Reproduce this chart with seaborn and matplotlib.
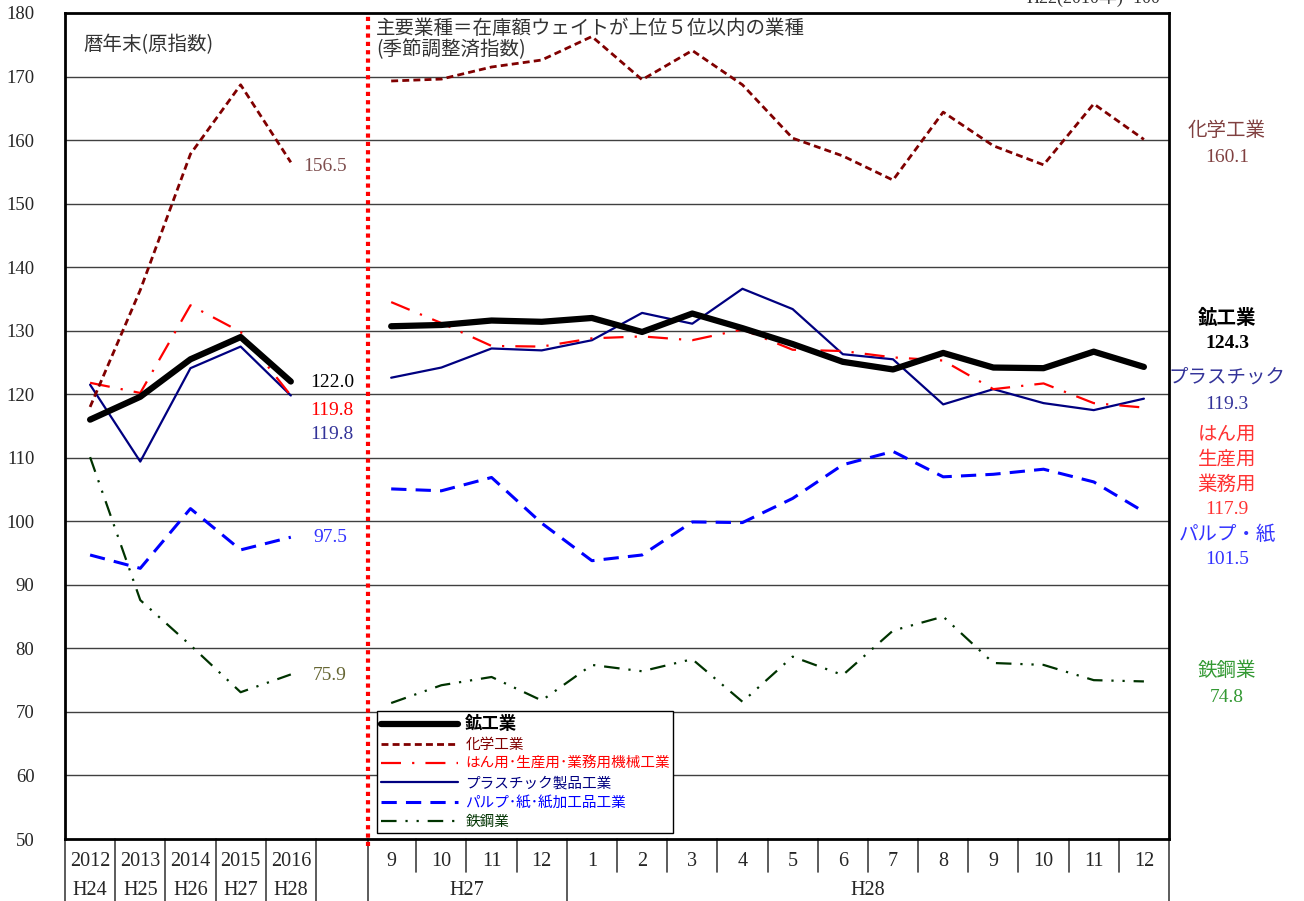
import matplotlib
matplotlib.use("Agg")
import pandas as pd
import matplotlib.pyplot as plt
import seaborn as sns

# ---- data ----
years = ["2012", "2013", "2014", "2015", "2016"]
eras = ["H24", "H25", "H26", "H27", "H28"]
months = ["9", "10", "11", "12", "1", "2", "3", "4", "5", "6", "7", "8", "9", "10", "11", "12"]

names = ["鉱工業", "化学工業", "はん用･生産用･業務用機械工業",
         "プラスチック製品工業", "パルプ･紙･紙加工品工業", "鉄鋼業"]

mining_y = [116.0, 119.6, 125.5, 129.0, 122.0]
mining_m = [130.7, 130.9, 131.6, 131.4, 132.0, 129.8, 132.7, 130.4,
            127.9, 125.1, 123.9, 126.5, 124.2, 124.1, 126.7, 124.3]
chem_y = [118.0, 136.4, 157.8, 168.7, 156.5]
chem_m = [169.3, 169.6, 171.5, 172.6, 176.3, 169.5, 174.1, 168.7,
          160.3, 157.5, 153.7, 164.4, 159.1, 156.1, 165.7, 160.1]
mach_y = [121.8, 120.2, 134.0, 129.8, 119.8]
mach_m = [134.5, 131.2, 127.6, 127.5, 128.8, 129.1, 128.5, 130.2,
          127.0, 126.8, 125.8, 125.3, 120.8, 121.7, 118.6, 117.9]
plas_y = [121.5, 109.4, 124.1, 127.5, 119.8]
plas_m = [122.6, 124.2, 127.2, 126.9, 128.5, 132.8, 131.1, 136.6,
          133.4, 126.3, 125.5, 118.4, 120.8, 118.6, 117.5, 119.3]
pulp_y = [94.7, 92.6, 102.0, 95.5, 97.5]
pulp_m = [105.1, 104.8, 106.9, 99.7, 93.8, 94.7, 99.9, 99.8,
          103.6, 108.9, 111.0, 107.0, 107.4, 108.2, 106.2, 101.5]
steel_y = [110.1, 87.6, 80.5, 73.1, 75.9]
steel_m = [71.4, 74.2, 75.5, 71.8, 77.4, 76.4, 78.3, 71.6,
           78.7, 75.8, 82.8, 85.0, 77.7, 77.4, 75.0, 74.8]

annual = [mining_y, chem_y, mach_y, plas_y, pulp_y, steel_y]
monthly = [mining_m, chem_m, mach_m, plas_m, pulp_m, steel_m]

colors = ["#000000", "#800000", "#FF0000", "#000080", "#0000FF", "#003300"]
styles = ["-", (0, (2.5, 1.5)), (0, (9, 5, 1, 5)), "-", (0, (5, 3)), (0, (7, 4, 1, 4, 1, 4))]
widths = [4.5, 2.0, 1.6, 1.6, 2.2, 1.6]

x_year = list(range(5))
x_month = list(range(6, 22))

# ---- figure ----
sns.set_style("white")
plt.rcParams["font.family"] = ["Liberation Serif", "Noto Sans CJK JP", "DejaVu Sans"]
JP = ["Noto Sans CJK JP", "DejaVu Sans"]
NUM = ["Liberation Serif", "Noto Sans CJK JP"]

fig = plt.figure(figsize=(13.04, 9.01), dpi=100)
ax = fig.add_axes([65 / 1304, 1 - 839 / 901, 1104 / 1304, 826 / 901])

handles = []
for i in range(6):
    df_y = pd.DataFrame({"x": x_year, "v": annual[i]})
    df_m = pd.DataFrame({"x": x_month, "v": monthly[i]})
    sns.lineplot(data=df_y, x="x", y="v", ax=ax, color=colors[i], linestyle=styles[i],
                 linewidth=widths[i], errorbar=None, label="_nolegend_", zorder=5 - i * 0.1)
    sns.lineplot(data=df_m, x="x", y="v", ax=ax, color=colors[i], linestyle=styles[i],
                 linewidth=widths[i], errorbar=None, label=names[i], zorder=5 - i * 0.1)
    handles.append(ax.lines[-1])

ax.set_xlim(-0.5, 21.5)
ax.set_ylim(50, 180)
ax.set_yticks(range(50, 181, 10))
ax.set_xticks([])
ax.set_xlabel("")
ax.set_ylabel("")
ax.tick_params(axis="y", labelsize=13.5, direction="in", length=4, pad=22)
for t in ax.get_yticklabels():
    t.set_horizontalalignment("right")
for v in range(60, 180, 10):
    ax.axhline(v, color="#404040", linewidth=1.0, zorder=1)
for s in ax.spines.values():
    s.set_color("black")
    s.set_linewidth(2)

# red dotted separator
ax.axvline(5.53, ymin=-0.008, ymax=1, color="red", linestyle=(0, (1, 1)), linewidth=3,
           clip_on=False, zorder=6)

# legend
leg = ax.legend(handles=handles, labels=names, loc="upper left",
                bbox_to_anchor=(0.2826, 0.155), borderaxespad=0, fancybox=False,
                framealpha=1, edgecolor="black", handlelength=5.3, labelspacing=0.36,
                borderpad=0.25, handletextpad=0.5, prop={"family": JP, "size": 10.5})
leg.get_frame().set_linewidth(1)
for txt, c in zip(leg.get_texts(), colors):
    txt.set_color(c)
leg.get_texts()[0].set_fontweight("bold")
leg.get_texts()[0].set_fontsize(12.5)

# in-axes captions
ax.text(0.0165, 0.962, "暦年末(原指数)", transform=ax.transAxes, fontsize=14,
        color="#333333", family=JP, va="center")
ax.text(5.7, 177.6, "主要業種＝在庫額ウェイトが上位５位以内の業種", fontsize=14,
        color="#333333", family=JP, va="center")
ax.text(5.7, 174.2, "(季節調整済指数)", fontsize=14, color="#333333", family=JP, va="center")

# end-of-year annotations
ann = [("156.5", 4.68, 155.8, "#7F4F4F"), ("122.0", 4.82, 121.8, "#000000"),
       ("119.8", 4.82, 117.4, "#FF0000"), ("119.8", 4.82, 113.6, "#333399"),
       ("97.5", 4.78, 97.5, "#3333FF"), ("75.9", 4.78, 75.7, "#666633")]
for txt, xv, yv, c in ann:
    ax.text(xv, yv, txt, ha="center", va="center", fontsize=14, color=c)

# right-hand labels
right = [("化学工業", 130, "#804040", "normal"), ("160.1", 157, "#804040", "normal"),
         ("鉱工業", 318, "#000000", "bold"), ("124.3", 343, "#000000", "bold"),
         ("プラスチック", 377, "#333399", "normal"), ("119.3", 404, "#333399", "normal"),
         ("はん用", 434, "#FF3333", "normal"), ("生産用", 459, "#FF3333", "normal"),
         ("業務用", 484, "#FF3333", "normal"), ("117.9", 510, "#FF3333", "normal"),
         ("パルプ・紙", 534, "#3333FF", "normal"), ("101.5", 560, "#3333FF", "normal"),
         ("鉄鋼業", 671, "#339933", "normal"), ("74.8", 698, "#339933", "normal")]
for txt, py, c, w in right:
    fam = NUM if txt[0].isdigit() else JP
    fig.text(1227 / 1304, 1 - py / 901, txt, ha="center", va="center", fontsize=14,
             color=c, fontweight=w, family=fam)

fig.text(1160 / 1304, 1.003, "H22(2010年)=100", ha="right", va="center", fontsize=13,
         color="#333333", family=NUM)

# table below the x axis
trans = ax.get_xaxis_transform()
row_h = 31 / 826
full = [-0.5, 0.5, 1.5, 2.5, 3.5, 4.5, 5.53, 9.5, 21.5]
half = [6.5, 7.5, 8.5, 10.5, 11.5, 12.5, 13.5, 14.5, 15.5, 16.5, 17.5, 18.5, 19.5, 20.5]
for xv in full:
    ax.plot([xv, xv], [0, -2 * row_h - 0.01], transform=trans, color="#404040",
            linewidth=1.2, clip_on=False)
for xv in half:
    ax.plot([xv, xv], [0, -row_h - 0.002], transform=trans, color="#404040",
            linewidth=1.2, clip_on=False)
y1 = -0.5 * row_h - 0.009
y2 = -1.5 * row_h - 0.006
for xv, lab in zip(x_year, years):
    ax.text(xv, y1, lab, transform=trans, ha="center", va="center", fontsize=14.5)
for xv, lab in zip(x_year, eras):
    ax.text(xv, y2, lab, transform=trans, ha="center", va="center", fontsize=14.5)
for xv, lab in zip(x_month, months):
    ax.text(xv, y1, lab, transform=trans, ha="center", va="center", fontsize=14.5)
ax.text(7.5, y2, "H27", transform=trans, ha="center", va="center", fontsize=14.5)
ax.text(15.5, y2, "H28", transform=trans, ha="center", va="center", fontsize=14.5)

fig.savefig("out.png", dpi=100)
